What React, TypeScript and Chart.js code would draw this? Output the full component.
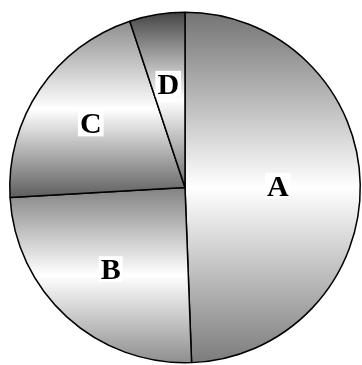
import React, { useEffect, useRef } from "react";
import { Chart, registerables } from "chart.js";

Chart.register(...registerables);

const categories = ["A", "B", "C", "D"];
const values = [49.4, 24.7, 20.8, 5.1];

// per-slice vertical shading: [top, middle, bottom]
const shades = [
  ["#747474", "#ffffff", "#7c7c7c"],
  ["#828282", "#ffffff", "#8e8e8e"],
  ["#8e8e8e", "#ffffff", "#5e5e5e"],
  ["#444444", "#ffffff", "#6a6a6a"],
];
// label distance from centre as a fraction of the radius
const labelRadius = [0.53, 0.63, 0.65, 0.6];

const BORDER = 1.5;
const FONT_PX = 30;

function sliceAngles(i: number) {
  const total = values.reduce((a, b) => a + b, 0);
  let acc = 0;
  for (let k = 0; k < i; k++) acc += values[k];
  const start = -Math.PI / 2 + (acc / total) * Math.PI * 2;
  const end = start + (values[i] / total) * Math.PI * 2;
  return { start, end };
}

function geometry(chart: any) {
  const a = chart.chartArea;
  const cx = (a.left + a.right) / 2;
  const cy = (a.top + a.bottom) / 2;
  const r = (Math.min(a.right - a.left, a.bottom - a.top) - BORDER) / 2;
  return { cx, cy, r };
}

function yRange(i: number, cy: number, r: number) {
  const { start, end } = sliceAngles(i);
  const ys = [cy, cy + r * Math.sin(start), cy + r * Math.sin(end)];
  for (const k of [-Math.PI / 2, Math.PI / 2, (3 * Math.PI) / 2]) {
    if (k >= start - 1e-9 && k <= end + 1e-9) ys.push(cy + r * Math.sin(k));
  }
  return [Math.min(...ys), Math.max(...ys)];
}

const labelPlugin = {
  id: "sliceLabels",
  afterDatasetsDraw(chart: any) {
    const ctx = chart.ctx;
    const { cx, cy, r } = geometry(chart);
    const capH = FONT_PX * 0.66;
    ctx.save();
    ctx.font = `bold ${FONT_PX}px "Liberation Serif", "Times New Roman", serif`;
    ctx.textAlign = "center";
    ctx.textBaseline = "alphabetic";
    categories.forEach((lab, i) => {
      const { start, end } = sliceAngles(i);
      const mid = (start + end) / 2;
      const d = r * labelRadius[i];
      const x = cx + d * Math.cos(mid);
      const y = cy + d * Math.sin(mid);
      const w = ctx.measureText(lab).width;
      ctx.fillStyle = "#ffffff";
      ctx.fillRect(x - w / 2 - 2, y - capH / 2 - 3, w + 4, capH + 6);
      ctx.fillStyle = "#000000";
      ctx.fillText(lab, x, y + capH / 2);
    });
    ctx.restore();
  },
};

export default function App() {
  const ref = useRef<HTMLCanvasElement>(null);
  useEffect(() => {
    if (!ref.current) return;
    const chart = new Chart(ref.current, {
      type: "pie",
      data: {
        labels: categories,
        datasets: [
          {
            data: values,
            backgroundColor: (c: any) => {
              const ch = c.chart;
              if (!ch.chartArea) return "#cccccc";
              const { cy, r } = geometry(ch);
              const [y0, y1] = yRange(c.dataIndex, cy, r);
              const g = ch.ctx.createLinearGradient(0, y0, 0, y1);
              const s = shades[c.dataIndex];
              g.addColorStop(0, s[0]);
              g.addColorStop(0.5, s[1]);
              g.addColorStop(1, s[2]);
              return g;
            },
            borderColor: "#000000",
            borderWidth: BORDER,
            hoverOffset: 0,
          },
        ],
      },
      options: {
        responsive: false,
        animation: false,
        layout: { padding: { left: 9, right: 1, top: 11.5, bottom: 1.5 } },
        plugins: { legend: { display: false }, tooltip: { enabled: false } },
        events: [],
      },
      plugins: [labelPlugin],
    });
    return () => chart.destroy();
  }, []);
  return (
    <div style={{ position: "fixed", left: 0, top: 0, width: 362, height: 365, background: "#ffffff" }}>
      <canvas ref={ref} width={362} height={365} style={{ width: 362, height: 365 }} />
    </div>
  );
}
